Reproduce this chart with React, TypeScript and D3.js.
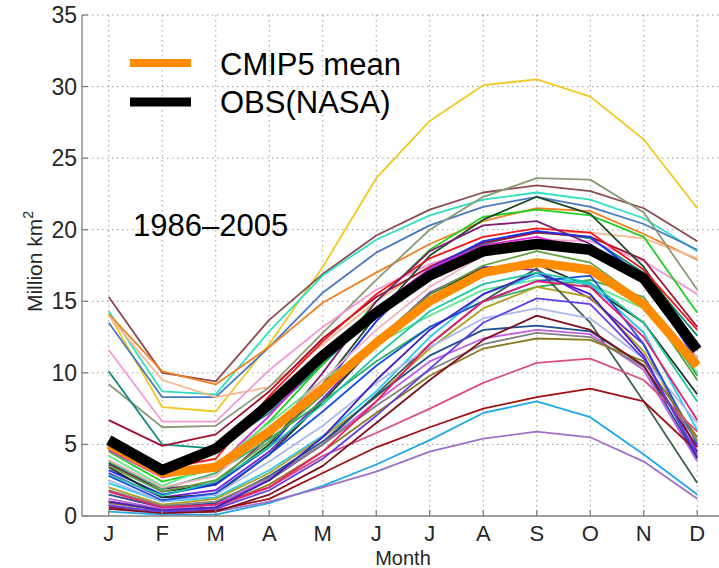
import React from "react";
import * as d3 from "d3";

// Antarctic sea-ice extent, monthly climatology 1986–2005 (million km²)
const months = ["J", "F", "M", "A", "M", "J", "J", "A", "S", "O", "N", "D"];
const yTicks = [0, 5, 10, 15, 20, 25, 30, 35];

const obsNasa = [5.3, 3.2, 4.7, 7.8, 11.2, 14.2, 16.8, 18.5, 19.0, 18.6, 16.6, 11.6];
const cmip5Mean = [5.0, 3.0, 3.4, 5.9, 8.9, 12.1, 15.0, 17.0, 17.7, 17.2, 14.8, 10.5];

// individual CMIP5 models
const modelColors = [
  "#f0c820", "#8b4a50", "#2ee0c0", "#4a78c0", "#f08020", "#f5b890", "#8a9a78", "#f29ad8",
  "#108a80", "#a01030", "#22d022", "#1e4a28", "#f01818", "#802070", "#1a30f0", "#e020e0",
  "#7a20d8", "#203020", "#60e890", "#30b060", "#28c8f0", "#b0a020", "#406050", "#a8b8f0",
  "#1a50e0", "#20508a", "#c060e0", "#808080", "#8a7a20", "#d85080", "#a01010", "#20a8e8",
  "#a070c8", "#e8206a", "#801020", "#4020c0", "#20c8a0", "#60a040", "#f0b0c0", "#6040e0",
];
const modelValues = [
  [14.1, 7.6, 7.3, 12.0, 17.4, 23.6, 27.6, 30.1, 30.5, 29.3, 26.3, 21.5],
  [15.3, 10.0, 9.4, 13.7, 16.9, 19.6, 21.4, 22.6, 23.1, 22.7, 21.5, 19.2],
  [14.3, 8.7, 8.5, 12.9, 16.8, 19.3, 21.0, 22.1, 22.6, 22.1, 20.8, 18.5],
  [13.5, 8.3, 8.3, 11.8, 15.6, 18.4, 20.3, 21.6, 22.3, 21.6, 20.4, 18.6],
  [14.1, 10.1, 9.2, 11.8, 14.9, 17.0, 19.0, 20.6, 21.5, 21.3, 19.7, 17.9],
  [14.0, 9.5, 8.3, 9.0, 12.0, 15.0, 17.5, 19.0, 19.8, 19.8, 19.4, 18.0],
  [9.2, 6.2, 6.3, 9.0, 12.8, 16.5, 20.0, 22.3, 23.6, 23.5, 21.2, 15.8],
  [11.6, 6.6, 6.6, 10.2, 13.2, 15.8, 17.6, 18.8, 19.3, 19.2, 17.8, 15.5],
  [10.1, 5.0, 4.7, 7.2, 10.6, 14.2, 17.2, 19.0, 19.9, 19.4, 17.0, 12.6],
  [6.7, 4.9, 5.7, 8.7, 12.4, 15.3, 17.4, 19.1, 19.8, 19.5, 17.9, 13.2],
  [4.5, 2.4, 3.3, 6.6, 10.6, 15.0, 18.6, 20.9, 21.4, 21.0, 19.5, 14.2],
  [3.7, 1.7, 2.2, 5.0, 9.2, 14.0, 18.2, 20.7, 22.3, 21.1, 17.4, 12.0],
  [4.8, 3.3, 4.0, 8.4, 12.2, 15.5, 18.0, 19.5, 20.1, 19.8, 17.2, 13.0],
  [3.6, 1.9, 2.3, 5.5, 10.0, 15.0, 18.5, 20.3, 20.6, 19.0, 16.3, 11.0],
  [3.2, 1.5, 2.2, 4.8, 9.0, 13.6, 17.3, 19.2, 19.9, 19.5, 16.6, 10.8],
  [4.6, 2.7, 3.4, 7.0, 11.0, 14.5, 17.3, 18.9, 19.5, 18.5, 16.3, 12.0],
  [3.0, 1.3, 1.8, 4.5, 8.2, 12.2, 15.6, 17.4, 17.2, 15.2, 12.0, 4.5],
  [3.4, 1.3, 1.5, 4.3, 8.0, 12.0, 15.5, 17.3, 17.6, 16.0, 13.5, 8.5],
  [4.2, 2.1, 3.6, 6.5, 9.5, 12.0, 14.0, 15.8, 16.5, 16.2, 14.5, 10.0],
  [3.8, 1.9, 3.0, 5.4, 8.0, 10.8, 13.2, 15.0, 16.0, 16.5, 15.3, 9.8],
  [2.3, 1.0, 1.3, 3.2, 5.6, 8.7, 12.5, 15.5, 16.8, 16.2, 12.8, 6.0],
  [2.0, 0.8, 1.2, 3.0, 5.5, 8.3, 11.7, 14.5, 16.0, 15.3, 11.5, 5.3],
  [1.0, 0.5, 0.8, 2.5, 5.0, 8.5, 12.0, 15.0, 17.3, 13.5, 8.0, 2.3],
  [2.5, 1.0, 1.5, 3.8, 6.3, 9.3, 11.8, 13.8, 14.5, 13.8, 11.0, 6.5],
  [2.8, 1.1, 1.6, 4.3, 7.3, 10.5, 13.2, 15.0, 16.4, 16.8, 12.0, 5.0],
  [1.5, 0.6, 0.9, 2.8, 5.2, 8.4, 11.2, 13.0, 13.3, 12.9, 10.5, 4.0],
  [1.2, 0.5, 0.8, 2.6, 5.0, 8.0, 10.8, 12.4, 13.0, 12.7, 10.2, 3.8],
  [1.8, 0.7, 1.0, 2.7, 5.0, 7.7, 10.2, 12.0, 12.8, 12.5, 10.4, 5.2],
  [0.9, 0.4, 0.6, 2.2, 4.5, 7.2, 9.8, 11.7, 12.4, 12.3, 10.8, 5.5],
  [1.0, 0.4, 0.6, 2.0, 4.2, 5.8, 7.5, 9.3, 10.7, 11.0, 9.5, 5.9],
  [0.6, 0.3, 0.4, 1.2, 3.0, 4.8, 6.2, 7.5, 8.3, 8.9, 8.0, 4.5],
  [0.3, 0.1, 0.1, 0.9, 2.1, 3.6, 5.3, 7.2, 8.0, 6.9, 4.3, 1.5],
  [0.8, 0.2, 0.3, 1.0, 2.0, 3.1, 4.5, 5.4, 5.9, 5.5, 3.8, 1.2],
  [1.7, 0.6, 0.8, 2.0, 4.5, 8.0, 12.0, 15.0, 16.4, 16.0, 12.5, 6.7],
  [0.5, 0.2, 0.3, 1.5, 3.5, 6.5, 9.5, 12.3, 14.0, 13.0, 10.5, 4.8],
  [1.0, 0.4, 0.6, 2.5, 5.5, 9.5, 13.0, 15.5, 17.0, 15.5, 11.2, 4.1],
  [2.9, 1.4, 2.4, 4.8, 7.8, 11.2, 14.3, 16.2, 17.0, 16.3, 13.5, 8.0],
  [3.5, 1.7, 2.5, 5.2, 8.5, 12.3, 15.5, 17.5, 18.5, 17.7, 15.0, 9.5],
  [3.9, 2.0, 2.8, 6.0, 9.5, 13.0, 16.0, 18.2, 19.0, 18.7, 16.5, 11.0],
  [0.7, 0.3, 0.5, 1.8, 4.0, 7.0, 10.3, 13.5, 15.2, 14.8, 11.0, 4.3],
];

const W = 719;
const H = 568;
const left = 82;
const bottom = 516;
const top = 15;
const font = "'Liberation Sans', Arial, Helvetica, sans-serif";

export default function App() {
  const x = d3.scaleLinear().domain([0.5, 12.5]).range([left, 724]);
  const y = d3.scaleLinear().domain([0, 35]).range([bottom, top]);
  const line = d3
    .line<number>()
    .x((_, i) => x(i + 1))
    .y((d) => y(d));

  const gridColor = "#9a9a9a";
  const axisColor = "#808080";
  const textColor = "#262626";

  return (
    <svg
      width={W}
      height={H}
      style={{ position: "absolute", left: 0, top: 0, background: "#fff" }}
      fontFamily={font}
    >
      {/* grid */}
      <g stroke={gridColor} strokeWidth={1} strokeDasharray="1.5,3.5">
        {months.map((_, i) => (
          <line key={"gx" + i} x1={x(i + 1)} x2={x(i + 1)} y1={top} y2={bottom} />
        ))}
        {yTicks.slice(1).map((t) => (
          <line key={"gy" + t} x1={left} x2={W} y1={y(t)} y2={y(t)} />
        ))}
      </g>

      {/* model lines */}
      <g fill="none" strokeWidth={1.8} strokeLinejoin="round">
        {modelValues.map((vals, i) => (
          <path key={"m" + i} d={line(vals) ?? ""} stroke={modelColors[i]} />
        ))}
      </g>
      <path d={line(cmip5Mean) ?? ""} fill="none" stroke="#ff8c00" strokeWidth={9} strokeLinejoin="round" />
      <path d={line(obsNasa) ?? ""} fill="none" stroke="#000" strokeWidth={10.5} strokeLinejoin="round" />

      {/* axes */}
      <g stroke={axisColor} strokeWidth={1.3}>
        <line x1={left} x2={left} y1={top} y2={bottom} />
        <line x1={left} x2={W} y1={bottom} y2={bottom} />
        {yTicks.map((t) => (
          <line key={"ty" + t} x1={left} x2={left + 6} y1={y(t)} y2={y(t)} />
        ))}
        {months.map((_, i) => (
          <line key={"tx" + i} x1={x(i + 1)} x2={x(i + 1)} y1={bottom} y2={bottom - 6} />
        ))}
      </g>
      <g fill={textColor} fontSize={23} textAnchor="end">
        {yTicks.map((t) => (
          <text key={"ly" + t} x={left - 5} y={y(t) + 8}>
            {t}
          </text>
        ))}
      </g>
      <g fill={textColor} fontSize={22} textAnchor="middle">
        {months.map((m, i) => (
          <text key={"lx" + i} x={x(i + 1)} y={bottom + 25}>
            {m}
          </text>
        ))}
      </g>
      <text x={(left + 724) / 2} y={565} fontSize={20} textAnchor="middle" fill={textColor}>
        Month
      </text>
      <text
        transform={`translate(42, ${(top + bottom) / 2 - 4}) rotate(-90)`}
        fontSize={21}
        textAnchor="middle"
        fill={textColor}
      >
        Million km<tspan dy={-9} fontSize={14}>2</tspan>
      </text>

      {/* legend */}
      <line x1={130} x2={191} y1={63} y2={63} stroke="#ff8c00" strokeWidth={8} />
      <line x1={130} x2={191} y1={102} y2={102} stroke="#000" strokeWidth={9} />
      <text x={220} y={75} fontSize={31} fill="#000">
        CMIP5 mean
      </text>
      <text x={220} y={113} fontSize={31} fill="#000">
        OBS(NASA)
      </text>
      <text x={133} y={236} fontSize={31} fill="#000">
        1986–2005
      </text>
    </svg>
  );
}
